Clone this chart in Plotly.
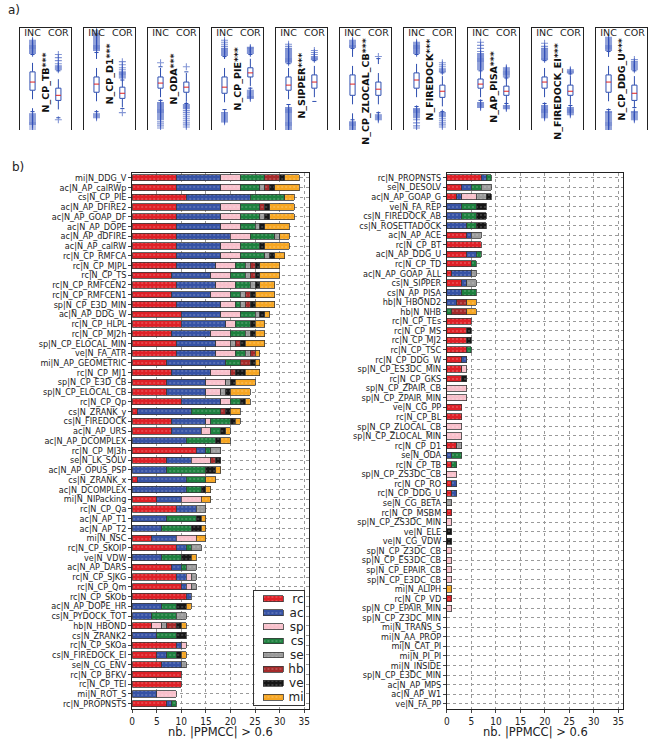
import plotly.graph_objects as go

# ---------------- data: panel b (left) ----------------
left_labels = [
    "mi|N_DDG_V", "ac|N_AP_calRWp", "cs|N_CP_PIE", "ac|N_AP_DFIRE2", "ac|N_AP_GOAP_DF",
    "ac|N_AP_DOPE", "ac|N_AP_dDFIRE", "ac|N_AP_calRW", "rc|N_CP_RMFCA", "rc|N_CP_MJPL",
    "rc|N_CP_TS", "rc|N_CP_RMFCEN2", "rc|N_CP_RMFCEN1", "sp|N_CP_E3D_MIN", "ac|N_AP_DDG_W",
    "rc|N_CP_HLPL", "rc|N_CP_MJ2h", "sp|N_CP_ELOCAL_MIN", "ve|N_FA_ATR", "mi|N_AP_GEOMETRIC",
    "rc|N_CP_MJ1", "sp|N_CP_E3D_CB", "sp|N_CP_ELOCAL_CB", "rc|N_CP_Qp", "cs|N_ZRANK_y",
    "cs|N_FIREDOCK", "ac|N_AP_URS", "ac|N_AP_DCOMPLEX", "rc|N_CP_MJ3h", "se|N_LK_SOLV",
    "ac|N_AP_OPUS_PSP", "cs|N_ZRANK_x", "ac|N_DCOMPLEX", "mi|N_NIPacking", "rc|N_CP_Qa",
    "ac|N_AP_T1", "ac|N_AP_T2", "mi|N_NSC", "rc|N_CP_SKOIP", "ve|N_VDW",
    "ac|N_AP_DARS", "rc|N_CP_SJKG", "rc|N_CP_Qm", "rc|N_CP_SKOb", "ac|N_AP_DOPE_HR",
    "cs|N_PYDOCK_TOT", "hb|N_HBOND", "cs|N_ZRANK2", "rc|N_CP_SKOa", "cs|N_FIREDOCK_EI",
    "se|N_CG_ENV", "rc|N_CP_BFKV", "rc|N_CP_TEI", "mi|N_ROT_S", "rc|N_PROPNSTS",
]
left_rc = [9, 9, 11, 9, 9, 9, 9, 9, 9, 9, 8, 9, 8, 9, 10, 10, 8, 9, 9, 7, 8, 7, 7, 10, 1, 8, 8, 0, 13, 7,
           0, 1, 0, 5, 9, 0, 0, 4, 9, 0, 8, 9, 10, 11, 0, 0, 4, 0, 9, 5, 6, 10, 10, 0, 7]
left_ac = [9, 9, 13, 9, 9, 9, 11, 9, 9, 8, 8, 8, 8, 9, 8, 9, 8, 8, 8, 12, 8, 8, 8, 8, 11, 7, 6, 11, 2, 5,
           7, 10, 11, 5, 4, 7, 6, 5, 2, 6, 2, 2, 1, 1, 6, 4, 0, 5, 1, 2, 4, 0, 0, 5, 1]
left_sp = [4, 4, 0, 4, 4, 4, 4, 4, 4, 4, 4, 4, 4, 3, 4, 2, 4, 3, 4, 0, 4, 4, 3, 2, 0, 1, 2, 0, 0, 4,
           0, 0, 0, 4, 0, 0, 0, 4, 0, 0, 0, 1, 1, 0, 0, 0, 2, 0, 1, 0, 0, 0, 0, 4, 0]
left_cs = [5, 4, 7, 4, 4, 3, 5, 4, 5, 2, 3, 3, 2, 1, 3, 3, 3, 0, 2, 3, 0, 0, 0, 2, 6, 4, 2, 6, 1, 0,
           8, 4, 3, 0, 0, 6, 6, 0, 1, 4, 1, 0, 0, 0, 3, 5, 0, 4, 0, 2, 0, 0, 0, 0, 1]
left_se = [0, 1, 0, 0, 1, 1, 1, 0, 1, 1, 1, 1, 1, 1, 1, 0, 1, 1, 1, 0, 0, 1, 1, 0, 0, 0, 0, 0, 2, 0,
           0, 0, 0, 0, 2, 0, 0, 0, 2, 0, 2, 1, 1, 0, 0, 2, 1, 0, 0, 0, 1, 0, 0, 0, 0]
left_hb = [3, 1, 0, 1, 0, 0, 0, 0, 0, 1, 1, 0, 1, 1, 0, 0, 0, 1, 1, 2, 1, 0, 0, 0, 1, 0, 0, 0, 0, 1,
           0, 0, 0, 0, 0, 0, 0, 0, 0, 0, 0, 0, 0, 0, 0, 0, 2, 0, 0, 0, 0, 0, 0, 0, 0]
left_ve = [1, 1, 0, 1, 1, 1, 0, 1, 1, 1, 1, 1, 1, 1, 1, 1, 1, 1, 0, 1, 2, 1, 1, 1, 1, 1, 1, 1, 0, 1,
           2, 0, 1, 0, 0, 1, 2, 0, 0, 2, 0, 0, 0, 0, 2, 0, 1, 2, 0, 1, 0, 0, 0, 0, 0]
left_mi = [3, 5, 2, 5, 5, 5, 2, 5, 2, 4, 4, 3, 4, 4, 1, 2, 2, 4, 1, 1, 3, 4, 4, 1, 2, 1, 1, 2, 0, 0,
           1, 2, 1, 2, 0, 1, 1, 2, 0, 1, 0, 0, 0, 0, 1, 0, 1, 0, 0, 1, 0, 0, 0, 0, 0]

# ---------------- data: panel b (right) ----------------
right_labels = [
    "rc|N_PROPNSTS", "se|N_DESOLV", "ac|N_AP_GOAP_G", "ve|N_FA_REP", "cs|N_FIREDOCK_AB",
    "cs|N_ROSETTADOCK", "ac|N_AP_ACE", "rc|N_CP_BT", "ac|N_AP_DDG_U", "rc|N_CP_TD",
    "ac|N_AP_GOAP_ALL", "cs|N_SIPPER", "cs|N_AP_PISA", "hb|N_HBOND2", "hb|N_NHB",
    "rc|N_CP_TEs", "rc|N_CP_MS", "rc|N_CP_MJ2", "rc|N_CP_TSC", "rc|N_CP_DDG_W",
    "sp|N_CP_ES3DC_MIN", "rc|N_CP_GKS", "sp|N_CP_ZPAIR_CB", "sp|N_CP_ZPAIR_MIN", "ve|N_CG_PP",
    "rc|N_CP_BL", "sp|N_CP_ZLOCAL_CB", "sp|N_CP_ZLOCAL_MIN", "rc|N_CP_D1", "se|N_ODA",
    "rc|N_CP_TB", "sp|N_CP_ZS3DC_CB", "rc|N_CP_RO", "rc|N_CP_DDG_U", "se|N_CG_BETA",
    "rc|N_CP_MSBM", "sp|N_CP_ZS3DC_MIN", "ve|N_ELE", "ve|N_CG_VDW", "sp|N_CP_Z3DC_CB",
    "sp|N_CP_ES3DC_CB", "sp|N_CP_EPAIR_CB", "sp|N_CP_E3DC_CB", "mi|N_ALIPH", "rc|N_CP_VD",
    "sp|N_CP_EPAIR_MIN", "sp|N_CP_Z3DC_MIN", "mi|N_TRANS_S", "mi|N_AA_PROP", "mi|N_CAT_PI",
    "mi|N_PI_PI", "mi|N_INSIDE", "sp|N_CP_E3DC_MIN", "ac|N_AP_MPS", "ac|N_AP_W1",
    "ve|N_FA_PP",
]
right_rc = [7, 3, 2, 0, 0, 0, 4, 7, 4, 5, 1, 3, 0, 0, 0, 5, 4, 4, 4, 3, 3, 3, 0, 0, 3, 3, 0, 0, 2, 0,
            1, 0, 1, 1, 0, 1, 0, 0, 0, 0, 0, 0, 0, 0, 1, 0, 0, 0, 0, 0, 0, 0, 0, 0, 0, 0]
right_ac = [1, 2, 1, 3, 3, 4, 1, 0, 2, 0, 4, 1, 3, 2, 0, 0, 0, 0, 0, 1, 0, 0, 0, 0, 0, 0, 0, 0, 0, 1,
            0, 0, 1, 1, 0, 0, 0, 0, 0, 0, 0, 0, 0, 0, 0, 0, 0, 0, 0, 0, 0, 0, 0, 0, 0, 0]
right_sp = [0, 0, 3, 0, 0, 0, 0, 0, 0, 0, 0, 0, 0, 0, 0, 0, 0, 0, 0, 0, 1, 0, 4, 4, 0, 0, 3, 3, 0, 0,
            0, 2, 0, 0, 0, 0, 1, 0, 0, 1, 1, 1, 1, 0, 0, 1, 0, 0, 0, 0, 0, 0, 0, 0, 0, 0]
right_cs = [1, 2, 0, 3, 3, 2, 0, 0, 1, 1, 0, 0, 3, 0, 1, 0, 0, 0, 1, 0, 0, 0, 0, 0, 0, 0, 0, 0, 0, 2,
            1, 0, 0, 0, 0, 0, 0, 0, 0, 0, 0, 0, 0, 0, 0, 0, 0, 0, 0, 0, 0, 0, 0, 0, 0, 0]
right_se = [0, 2, 2, 0, 0, 0, 2, 0, 0, 0, 1, 2, 0, 0, 0, 0, 0, 0, 0, 0, 0, 0, 0, 0, 0, 0, 0, 0, 1, 0,
            0, 0, 0, 0, 1, 0, 0, 0, 0, 0, 0, 0, 0, 0, 0, 0, 0, 0, 0, 0, 0, 0, 0, 0, 0, 0]
right_hb = [0, 0, 0, 0, 0, 0, 0, 0, 0, 0, 0, 0, 0, 2, 3, 0, 0, 0, 0, 0, 0, 0, 0, 0, 0, 0, 0, 0, 0, 0,
            0, 0, 0, 0, 0, 0, 0, 0, 0, 0, 0, 0, 0, 0, 0, 0, 0, 0, 0, 0, 0, 0, 0, 0, 0, 0]
right_ve = [0, 0, 1, 2, 2, 2, 0, 0, 0, 0, 0, 0, 0, 0, 0, 0, 1, 1, 0, 0, 0, 1, 0, 0, 0, 0, 0, 0, 0, 0,
            0, 0, 0, 0, 0, 0, 0, 1, 1, 0, 0, 0, 0, 0, 0, 0, 0, 0, 0, 0, 0, 0, 0, 0, 0, 0]
right_mi = [0, 0, 0, 0, 0, 0, 0, 0, 0, 0, 0, 0, 0, 2, 2, 0, 0, 0, 0, 0, 0, 0, 0, 0, 0, 0, 0, 0, 0, 0,
            0, 0, 0, 0, 0, 0, 0, 0, 0, 0, 0, 0, 0, 1, 0, 0, 0, 0, 0, 0, 0, 0, 0, 0, 0, 0]

categories = ["rc", "ac", "sp", "cs", "se", "hb", "ve", "mi"]
cat_colors = ["#de2027", "#3652a4", "#f8c0cb", "#1d7f3e", "#9a9a9a", "#a52a2a", "#161616", "#f6a623"]
x_title = "nb. |PPMCC| > 0.6"

# ---------------- data: panel a (box plots, arbitrary 0-100 scale) ----------------
panel_names = ["N_CP_TB***", "N_CP_D1***", "N_ODA***", "N_CP_PIE***", "N_SIPPER***",
               "N_CP_ZLOCAL_CB***", "N_FIREDOCK***", "N_AP_PISA***", "N_FIREDOCK_EI***", "N_CP_DDG_U***"]
panel_label_y = [47, 55, 50, 50, 44, 38, 50, 42, 38, 50]
group_names = ["INC", "COR"]

inc_q1 = [39, 37, 41, 36, 39, 34, 41, 41, 41, 37]
inc_med = [47, 45, 46, 42, 44, 45, 49, 45, 47, 47]
inc_q3 = [57, 52, 52, 52, 52, 54, 56, 50, 52, 54]
inc_lo = [18, 18, 29, 20, 25, 10, 23, 29, 26, 20]
inc_hi = [74, 76, 62, 72, 65, 80, 74, 58, 68, 77]
cor_q1 = [29, 31, 37, 52, 41, 34, 32, 34, 34, 29]
cor_med = [34, 36, 42, 56, 47, 40, 38, 38, 38, 36]
cor_q3 = [41, 42, 47, 61, 54, 47, 44, 43, 44, 44]
cor_lo = [12, 21, 26, 41, 28, 17, 18, 26, 24, 22]
cor_hi = [58, 49, 57, 74, 68, 70, 56, 51, 55, 58]

inc_fliers = [
    [75, 76, 77, 78, 79, 80, 81, 82, 83, 84, 85, 86, 87, 88, 16, 15, 14, 13, 12, 11, 10, 9, 8, 7, 6, 5, 3, 1],
    [78, 79, 80, 81, 82, 83, 84, 85, 86, 87, 88, 89, 90, 91, 92, 93, 94, 95, 97, 16, 15, 14, 13, 12],
    [66, 27, 26, 25, 24, 23, 22, 21, 20, 19, 18, 17, 16, 15, 14, 13, 12, 11, 10, 8, 6, 4, 2],
    [73, 74, 75, 76, 77, 78, 79, 80, 82, 84, 86, 88, 17, 16, 15, 14, 13, 12, 11, 10, 9, 8],
    [66, 67, 68, 69, 70, 71, 72, 73, 74, 75, 76, 77, 78, 79, 80, 82, 84,
     22, 21, 20, 19, 18, 17, 16, 15, 14, 13, 12, 11, 10, 9, 8, 7, 6, 5, 4, 3, 2, 1, 0],
    [81, 82, 83, 84, 85, 86, 87, 88, 8, 7, 6, 5, 4, 3, 2, 1, 0],
    [75, 76, 77, 78, 79, 80, 81, 82, 83, 84, 85, 86, 21, 20, 19, 18, 17, 16, 15, 14, 13, 12, 10, 7, 4, 2],
    [59, 60, 61, 62, 63, 64, 65, 66, 67, 68, 69, 70, 71, 72, 73, 74, 75, 77, 80, 83, 86, 27, 26, 25, 24, 23, 22],
    [69, 70, 71, 72, 73, 74, 75, 76, 77, 78, 79, 80, 82, 85, 24, 23, 22, 21, 20, 19, 18, 17, 16, 15, 14, 13, 12],
    [78, 79, 80, 81, 82, 83, 84, 85, 86, 87, 88, 89, 90, 91,
     18, 17, 16, 15, 14, 13, 12, 11, 10, 9, 8, 7, 6, 5, 4, 3, 2, 1, 0],
]
cor_fliers = [
    [59, 60, 61, 62, 63, 65, 68, 71, 74, 10],
    [51, 52, 53, 54, 55, 56, 57, 59, 61, 64, 67, 17],
    [62, 25, 24, 23, 22, 21, 19, 17, 15, 13, 11, 9, 7, 5, 3],
    [75, 76, 77, 78, 79, 80, 81, 39, 38, 37, 36, 35, 34, 33, 32, 31],
    [69, 70, 71, 72, 74, 76, 78],
    [72, 15, 14, 13, 12, 11, 10],
    [57, 58, 59, 60, 62, 64, 66, 17, 16, 15, 14, 13, 11, 9, 7, 5, 3],
    [52, 53, 54, 55, 56, 57, 58, 59, 60, 61, 24, 23, 22, 21],
    [56, 57, 58, 59, 22, 21, 20, 19, 18, 17, 16, 15],
    [59, 60, 61, 62, 63, 64, 65, 66, 67, 69, 18, 17, 16, 15, 14, 13, 12, 11, 10],
]

# ---------------- layout constants (pixels) ----------------
W, H = 652, 742
FONT = "DejaVu Sans"
COND = "DejaVu Sans Condensed"
BOX_BLUE = "#2f4fb0"
SWATCH_START, SWATCH_LEN = 0.18, 0.40   # legend swatch placement inside the legend box


def fx(px):
    return px / W


def fy(py):
    return 1 - py / H


def bar_marker(color):
    return dict(color=color, line=dict(color="#3a3a3a", width=0.8),
                pattern=dict(shape=".", fgcolor="rgba(255,255,255,0.45)", size=4, solidity=0.2))


fig = go.Figure()

# ---------------- panel b: stacked bars ----------------
left_vals = [left_rc, left_ac, left_sp, left_cs, left_se, left_hb, left_ve, left_mi]
right_vals = [right_rc, right_ac, right_sp, right_cs, right_se, right_hb, right_ve, right_mi]

for i, cat in enumerate(categories):
    for vals, labels, xa, ya in [(left_vals[i], left_labels, "x", "y"),
                                 (right_vals[i], right_labels, "x2", "y2")]:
        fig.add_trace(go.Bar(
            x=[v if v else None for v in vals], y=labels, orientation="h",
            name=cat, showlegend=False, xaxis=xa, yaxis=ya, width=0.64,
            marker=bar_marker(cat_colors[i]), hoverinfo="x+y+name",
        ))

# legend box drawn as a small inset axis (one swatch per category)
for i, cat in enumerate(categories):
    fig.add_trace(go.Bar(
        x=[SWATCH_LEN], base=[SWATCH_START], y=[cat], orientation="h", width=0.42,
        name=cat, showlegend=False, xaxis="x13", yaxis="y13",
        marker=bar_marker(cat_colors[i]), hoverinfo="name",
    ))

# ---------------- panel a: box plots ----------------
BW = 0.1   # half box width (x units)
CW = 0.08  # half cap width
for p in range(len(panel_names)):
    ax = p + 3
    xa, ya = f"x{ax}", f"y{ax}"
    q1s = [inc_q1[p], cor_q1[p]]
    meds = [inc_med[p], cor_med[p]]
    q3s = [inc_q3[p], cor_q3[p]]
    los = [inc_lo[p], cor_lo[p]]
    his = [inc_hi[p], cor_hi[p]]
    fl = [inc_fliers[p], cor_fliers[p]]
    bx, by, mx, my, wx, wy, cx, cy, px_, py_ = [], [], [], [], [], [], [], [], [], []
    for g in range(2):
        xc = g + 1
        bx += [xc - BW, xc + BW, xc + BW, xc - BW, xc - BW, None]
        by += [q1s[g], q1s[g], q3s[g], q3s[g], q1s[g], None]
        mx += [xc - BW, xc + BW, None]
        my += [meds[g], meds[g], None]
        wx += [xc, xc, None, xc, xc, None]
        wy += [q3s[g], his[g], None, q1s[g], los[g], None]
        cx += [xc - CW, xc + CW, None, xc - CW, xc + CW, None]
        cy += [his[g], his[g], None, los[g], los[g], None]
        px_ += [xc] * len(fl[g])
        py_ += fl[g]
    common = dict(xaxis=xa, yaxis=ya, showlegend=False, hoverinfo="skip")
    fig.add_trace(go.Scatter(x=wx, y=wy, mode="lines",
                             line=dict(color=BOX_BLUE, width=1, dash="dash"), **common))
    fig.add_trace(go.Scatter(x=cx, y=cy, mode="lines",
                             line=dict(color=BOX_BLUE, width=1), **common))
    fig.add_trace(go.Scatter(x=px_, y=py_, mode="markers",
                             marker=dict(symbol="cross-thin", size=5,
                                         line=dict(color="rgba(50,80,185,0.6)", width=1.1)),
                             **common))
    fig.add_trace(go.Scatter(x=bx, y=by, mode="lines", fill="toself", fillcolor="white",
                             line=dict(color=BOX_BLUE, width=1), **common))
    fig.add_trace(go.Scatter(x=mx, y=my, mode="lines",
                             line=dict(color="#e02020", width=1), **common))

layout = dict(
    width=W, height=H, margin=dict(l=0, r=0, t=0, b=0),
    paper_bgcolor="white", plot_bgcolor="white",
    barmode="stack", bargap=0.36, showlegend=False,
    font=dict(family=FONT, size=10, color="#222"),
)

bar_x_common = dict(range=[0, 36], tick0=0, dtick=5, showgrid=True, gridcolor="#9a9a9a",
                    griddash="dot", gridwidth=1, zeroline=False, showline=True, mirror=True,
                    linecolor="#222", linewidth=1, ticks="outside", ticklen=3,
                    tickfont=dict(family=COND, size=10, color="#222"))
bar_y_common = dict(type="category", tickmode="linear", tick0=0, dtick=1,
                    showgrid=True, gridcolor="#9a9a9a", griddash="dot",
                    gridwidth=1, showline=True, mirror=True, linecolor="#222", linewidth=1,
                    ticks="outside", ticklen=3, tickfont=dict(family=COND, size=9, color="#222"))

ydom = [fy(708.5), fy(173)]
left_dom = [fx(130), fx(308)]
right_dom = [fx(446.7), fx(624)]
layout["xaxis"] = dict(domain=left_dom, anchor="y", **bar_x_common)
layout["yaxis"] = dict(domain=ydom, anchor="x", categoryorder="array", categoryarray=left_labels,
                       range=[len(left_labels) - 0.5, -0.5], **bar_y_common)
layout["xaxis2"] = dict(domain=right_dom, anchor="y2", **bar_x_common)
layout["yaxis2"] = dict(domain=ydom, anchor="x2", categoryorder="array", categoryarray=right_labels,
                        range=[len(right_labels) - 0.5, -0.5], **bar_y_common)

# legend inset
layout["xaxis13"] = dict(domain=[fx(253), fx(303)], anchor="y13", range=[0, 1], showgrid=False,
                         zeroline=False, showticklabels=False, ticks="", showline=True, mirror=True,
                         linecolor="#333", linewidth=1, fixedrange=True)
layout["yaxis13"] = dict(domain=[fy(705), fy(591)], anchor="x13", type="category",
                         categoryorder="array", categoryarray=categories,
                         range=[len(categories) - 0.45, -0.55], side="right",
                         ticklabelposition="inside", ticks="", showgrid=False, zeroline=False,
                         showline=True, mirror=True, linecolor="#333", linewidth=1,
                         tickfont=dict(family=FONT, size=12, color="#222"), fixedrange=True)

annotations = [
    dict(text="a)", x=fx(3), y=fy(10), xref="paper", yref="paper", xanchor="left", yanchor="middle",
         showarrow=False, font=dict(family=FONT, size=12, color="#222")),
    dict(text="b)", x=fx(7), y=fy(167), xref="paper", yref="paper", xanchor="left", yanchor="middle",
         showarrow=False, font=dict(family=FONT, size=12, color="#222")),
]
for dom in (left_dom, right_dom):
    annotations.append(dict(text=x_title, x=(dom[0] + dom[1]) / 2, y=fy(732), xref="paper",
                            yref="paper", xanchor="center", yanchor="middle", showarrow=False,
                            font=dict(family=FONT, size=11.5, color="#222")))

for p in range(len(panel_names)):
    ax = p + 3
    left = 16.7 + 64.4 * p
    layout[f"xaxis{ax}"] = dict(domain=[fx(left), fx(left + 52)], anchor=f"y{ax}", range=[0.5, 2.5],
                                side="top", tickvals=[1, 2], ticktext=group_names,
                                ticklabelposition="inside", ticks="", showgrid=False, zeroline=False,
                                showline=True, linecolor="#222", linewidth=1,
                                tickfont=dict(family=FONT, size=9.5, color="#222"), fixedrange=True)
    layout[f"yaxis{ax}"] = dict(domain=[fy(130), fy(28)], anchor=f"x{ax}", range=[0, 100],
                                showticklabels=False, ticks="", showgrid=False, zeroline=False,
                                showline=True, mirror=True, linecolor="#222", linewidth=1,
                                fixedrange=True)
    annotations.append(dict(text=panel_names[p], x=1.5, y=panel_label_y[p], xref=f"x{ax}",
                            yref=f"y{ax}", textangle=-90, showarrow=False,
                            font=dict(family=FONT, size=9.5, color="#111", weight="bold")))

layout["annotations"] = annotations
fig.update_layout(**layout)
fig.write_html("out.html", config={"displayModeBar": False},
               post_script="document.body.style.margin='0';")
